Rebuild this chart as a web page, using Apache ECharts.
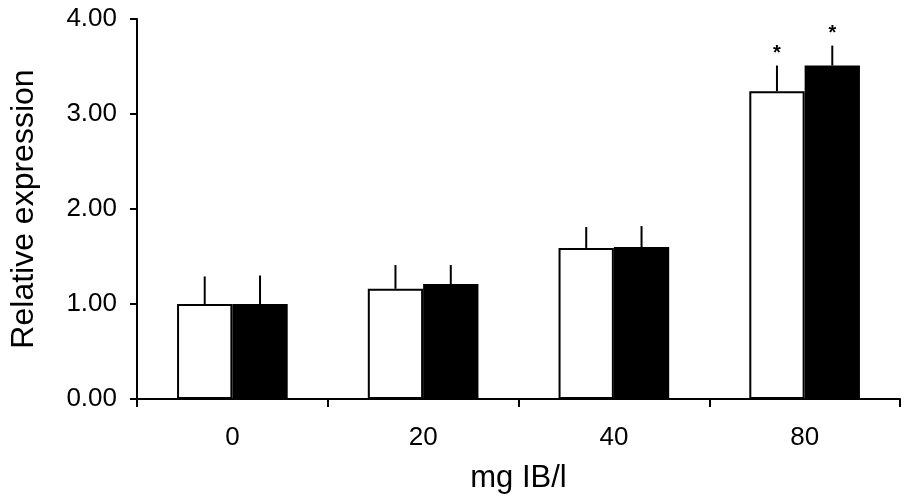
<!DOCTYPE html>
<html><head><meta charset="utf-8">
<script src="https://cdn.jsdelivr.net/npm/echarts@6/dist/echarts.min.js"></script>
<style>html,body{margin:0;padding:0;background:#fff}#c{width:906px;height:500px}</style>
</head><body><div id="c"></div>
<script>
var categories = ['0', '20', '40', '80'];
var whiteMeans = [1.00, 1.16, 1.59, 3.24];
var whiteErr = [0.29, 0.25, 0.22, 0.27];
var blackMeans = [1.00, 1.21, 1.60, 3.51];
var blackErr = [0.30, 0.20, 0.22, 0.21];
var whiteSig = ['', '', '', '*'];
var blackSig = ['', '', '', '*'];
var yTicks = [0, 1, 2, 3, 4];

var FONT = 'Liberation Sans, Arial, sans-serif';
var chart = echarts.init(document.getElementById('c'));

function errSeries(means, errs, sig, side) {
  var data = means.map(function (m, i) { return [i, m, m + errs[i], sig[i]]; });
  return {
    type: 'custom',
    z: 10,
    data: data,
    renderItem: function (params, api) {
      var cw = api.size([1, 0])[0];
      var off = side * cw * 0.145;
      var p0 = api.coord([api.value(0), api.value(1)]);
      var p1 = api.coord([api.value(0), api.value(2)]);
      var x = p0[0] + off;
      var children = [{
        type: 'line',
        shape: { x1: x, y1: p0[1], x2: x, y2: p1[1] },
        style: { stroke: '#000', lineWidth: 2 }
      }];
      var s = data[params.dataIndex][3];
      if (s) {
        children.push({
          type: 'text',
          style: { text: s, x: x, y: p1[1] - 2, textAlign: 'center', textVerticalAlign: 'bottom',
                   font: 'bold 20px ' + FONT, fill: '#000' }
        });
      }
      return { type: 'group', children: children };
    }
  };
}

chart.setOption({
  animation: false,
  backgroundColor: '#fff',
  grid: { left: 137, right: 6, top: 19, bottom: 101, containLabel: false, outerBoundsMode: 'none' },
  xAxis: {
    type: 'category',
    data: categories,
    boundaryGap: true,
    name: 'mg IB/l',
    nameLocation: 'middle',
    nameGap: 64,
    nameTextStyle: { fontFamily: FONT, fontSize: 31, color: '#000' },
    axisLine: { lineStyle: { color: '#000', width: 2 } },
    axisTick: { show: true, length: 8, lineStyle: { color: '#000', width: 2 } },
    axisLabel: { fontFamily: FONT, fontSize: 26, color: '#000', margin: 26 },
    splitLine: { show: false }
  },
  yAxis: {
    type: 'value',
    min: yTicks[0],
    max: yTicks[yTicks.length - 1],
    interval: 1,
    name: 'Relative expression',
    nameLocation: 'middle',
    nameGap: 97,
    nameTextStyle: { fontFamily: FONT, fontSize: 32, color: '#000' },
    axisLine: { show: true, lineStyle: { color: '#000', width: 2 } },
    axisTick: { show: true, length: 7, lineStyle: { color: '#000', width: 2 } },
    axisLabel: { fontFamily: FONT, fontSize: 26, color: '#000', margin: 20,
                 formatter: function (v) { return v.toFixed(2); } },
    splitLine: { show: false }
  },
  series: [
    {
      type: 'bar', data: whiteMeans, barGap: '0%', barCategoryGap: '42%',
      itemStyle: { color: '#fff', borderColor: '#000', borderWidth: 2 }
    },
    {
      type: 'bar', data: blackMeans, barGap: '0%', barCategoryGap: '42%',
      itemStyle: { color: '#000', borderColor: '#000', borderWidth: 2 }
    },
    errSeries(whiteMeans, whiteErr, whiteSig, -1),
    errSeries(blackMeans, blackErr, blackSig, 1)
  ]
});
</script></body></html>
